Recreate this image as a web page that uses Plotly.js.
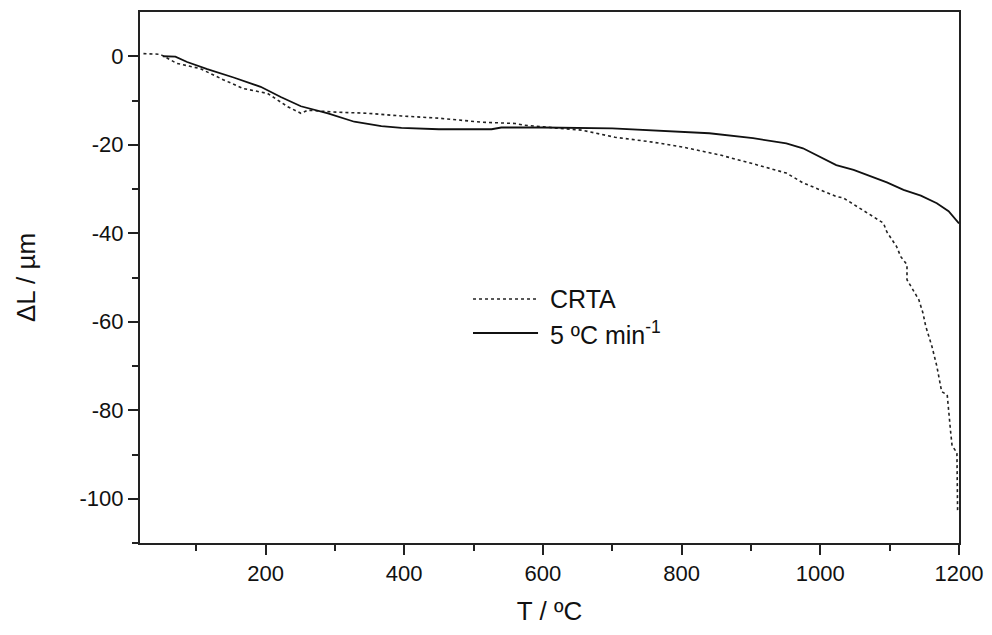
<!DOCTYPE html>
<html>
<head>
<meta charset="utf-8">
<script src="https://cdn.plot.ly/plotly-3.0.1.min.js"></script>
<style>html,body{margin:0;padding:0;background:#fff;}#chart{width:992px;height:635px;}</style>
</head>
<body>
<div id="chart"></div>
<script>
// CRTA (dotted)
const crtaT = [24, 48, 72, 106, 139, 168, 203, 232, 251, 261, 298, 348, 396, 450, 512, 560, 574, 656, 704, 758, 801, 855, 903, 951, 975, 1023, 1033, 1067, 1091, 1096, 1110, 1116, 1125, 1125, 1142, 1148, 1152, 1161, 1168, 1175, 1183, 1188, 1190, 1197, 1198];
const crtaDL = [0.6, 0.45, -1.6, -2.8, -5.3, -7.3, -8.4, -11.4, -12.9, -12.2, -12.6, -12.9, -13.5, -14, -14.9, -15.2, -15.6, -16.7, -18.3, -19.4, -20.5, -22.3, -24.3, -26.4, -28.6, -31.7, -32, -35.4, -37.7, -39.7, -43, -45.3, -47.1, -50.5, -55, -58, -61, -65.6, -70, -75.8, -76.5, -85, -88, -89.6, -103];
// 5 ºC/min (solid)
const rampT = [52, 70, 87, 116, 154, 193, 222, 251, 290, 328, 367, 396, 450, 526, 540, 600, 700, 758, 840, 903, 951, 975, 1009, 1023, 1048, 1072, 1096, 1120, 1145, 1168, 1185, 1200];
const rampDL = [0, -0.1, -1.3, -2.9, -4.8, -6.9, -9.2, -11.3, -12.9, -14.8, -15.8, -16.2, -16.5, -16.5, -16.1, -16.1, -16.3, -16.7, -17.4, -18.5, -19.7, -20.8, -23.5, -24.6, -25.7, -27.1, -28.5, -30.2, -31.5, -33.2, -35, -37.8];
const seriesNames = ['CRTA', '5 ºC min<sup>-1</sup>'];
const xTicks = [200, 400, 600, 800, 1000, 1200];
const yTicks = [0, -20, -40, -60, -80, -100];

const font = 'Liberation Sans, Arial, sans-serif';
const styles = [
  {color: '#222', width: 1.6, dash: 'dot'},
  {color: '#111', width: 1.8, dash: 'solid'}
];
const traces = [
  {x: crtaT, y: crtaDL, name: seriesNames[0], mode: 'lines', line: styles[0]},
  {x: rampT, y: rampDL, name: seriesNames[1], mode: 'lines', line: styles[1]}
];
// legend drawn as paper-referenced samples + labels
const legX0 = 0.4066, legX1 = 0.486, legTextX = 0.4982;
const legY = [0.4595, 0.3955];
const shapes = styles.map((s, i) => ({type: 'line', xref: 'paper', yref: 'paper',
  x0: legX0, x1: legX1, y0: legY[i], y1: legY[i], line: {color: s.color, width: s.width, dash: s.dash}}));
const annotations = seriesNames.map((n, i) => ({xref: 'paper', yref: 'paper', x: legTextX, y: legY[i],
  xanchor: 'left', yanchor: 'middle', showarrow: false, text: n,
  font: {family: font, size: 25, color: '#111'}}));

const axisCommon = {
  showline: true, mirror: true, linecolor: '#222', linewidth: 2,
  showgrid: false, zeroline: false, ticks: 'outside', ticklen: 10, tickwidth: 2, tickcolor: '#222',
  tickfont: {family: font, size: 22, color: '#111'}
};
const layout = {
  width: 992, height: 635,
  margin: {l: 140, r: 33, t: 12, b: 92},
  paper_bgcolor: '#fff', plot_bgcolor: '#fff',
  showlegend: false,
  shapes: shapes,
  annotations: annotations,
  xaxis: Object.assign({}, axisCommon, {
    range: [19, 1200], tickvals: xTicks, ticktext: xTicks.map(String),
    minor: {tickvals: [100, 300, 500, 700, 900, 1100], ticks: 'outside', ticklen: 6, tickwidth: 2, tickcolor: '#222'},
    title: {text: 'T / ºC', font: {family: font, size: 26, color: '#111'}, standoff: 16}
  }),
  yaxis: Object.assign({}, axisCommon, {
    range: [-110, 10], tickvals: yTicks, ticktext: yTicks.map(String),
    minor: {tickvals: [-10, -30, -50, -70, -90, -110], ticks: 'outside', ticklen: 6, tickwidth: 2, tickcolor: '#222'},
    title: {text: 'ΔL / µm', font: {family: font, size: 26, color: '#111'}, standoff: 36}
  })
};
Plotly.newPlot('chart', traces, layout, {displayModeBar: false, staticPlot: true});
</script>
</body>
</html>
